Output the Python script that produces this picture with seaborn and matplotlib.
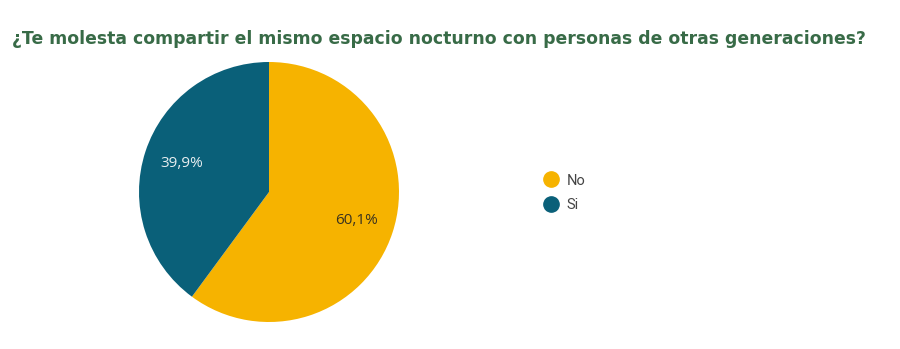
import matplotlib
matplotlib.use("Agg")
import matplotlib.pyplot as plt
from matplotlib.lines import Line2D
import numpy as np
import seaborn as sns

categories = ["No", "Si"]
values = [60.1, 39.9]
pct_labels = ["60,1%", "39,9%"]
colors = ["#F6B300", "#0A6079"]
label_colors = ["#3a3320", "#e8eef0"]

sns.set_theme(style="white")
plt.rcParams["font.family"] = ["Lato", "DejaVu Sans"]

fig = plt.figure(figsize=(9.0, 3.49), dpi=100)
fig.patch.set_facecolor("white")

fig.text(0.013, 0.887, "¿Te molesta compartir el mismo espacio nocturno con personas de otras generaciones?",
         fontsize=12.4, fontweight="bold", color="#386B47", family=["DejaVu Sans"],
         ha="left", va="center")

ax = fig.add_axes([139 / 900, 27 / 349, 260 / 900, 260 / 349])
wedges, _ = ax.pie(values, colors=colors, startangle=90, counterclock=False,
                   wedgeprops=dict(linewidth=0))
ax.set_xlim(-1, 1)
ax.set_ylim(-1, 1)
ax.set_aspect("equal")

for w, lab, c in zip(wedges, pct_labels, label_colors):
    ang = np.deg2rad((w.theta1 + w.theta2) / 2)
    ax.text(0.71 * np.cos(ang), 0.71 * np.sin(ang), lab, ha="center", va="center",
            fontsize=11, color=c, family=["Open Sans", "DejaVu Sans"])

handles = [Line2D([0], [0], marker="o", linestyle="", markersize=11,
                  markerfacecolor=c, markeredgecolor=c) for c in colors]
fig.legend(handles, categories, loc="center left", bbox_to_anchor=(0.581, 0.447),
           frameon=False, handletextpad=0.1, labelspacing=0.75,
           prop={"family": ["Roboto", "DejaVu Sans"], "size": 10.5}, labelcolor="#444444")

fig.savefig("out.png", dpi=100, facecolor="white")
